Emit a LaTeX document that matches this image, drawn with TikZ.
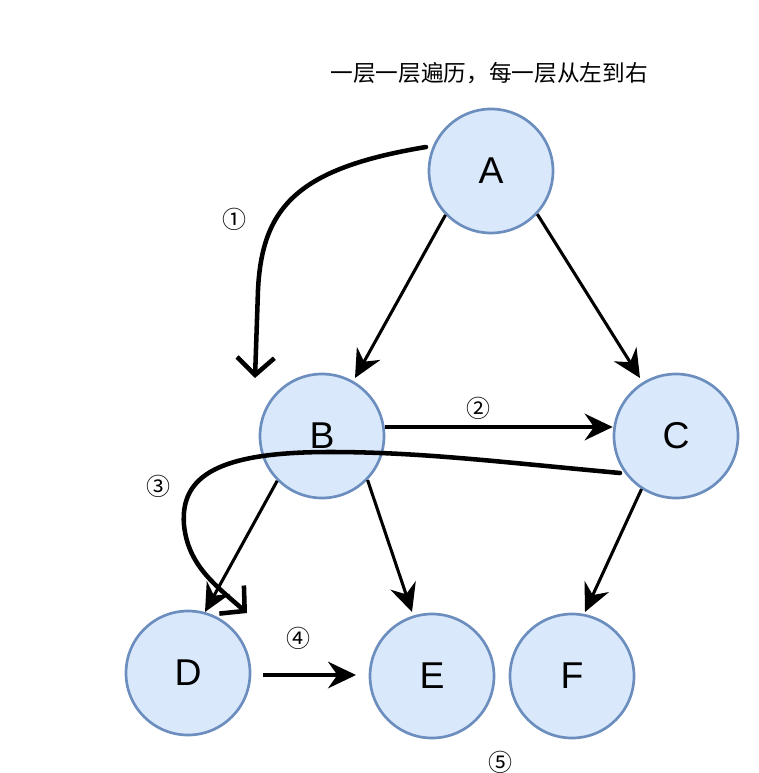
\documentclass[tikz,border=0pt]{standalone}
\usepackage{fontspec}
\setmainfont{Liberation Sans}
\newfontfamily\cjk{Noto Sans CJK SC}
\usetikzlibrary{arrows.meta,calc}
\definecolor{nodefill}{HTML}{DAE8FC}
\definecolor{nodeline}{HTML}{6C8EBF}
\begin{document}
\begin{tikzpicture}[x=0.75pt,y=-0.75pt,
  vert/.style={circle,draw=nodeline,fill=nodefill,line width=2pt,minimum size=93pt,inner sep=0pt,font=\fontsize{28}{28}\selectfont},
  edge/.style={line width=2.3pt,-{Stealth[length=21pt,width=20pt,inset=7pt]}},
  sketch/.style={line width=3.4pt,line cap=round,line join=round,-{Straight Barb[length=13pt,width=28pt,line width=3.4pt]}},
  num/.style={font=\cjk\fontsize{18}{18}\selectfont},
]
\useasboundingbox (0,0) rectangle (758,773);
\node[vert] (A) at (491,171) {A};
\node[vert] (B) at (322,436) {B};
\node[vert] (C) at (676,436) {C};
\node[vert] (D) at (188,673) {D};
\node[vert] (E) at (432,676) {E};
\node[vert] (F) at (572,676) {F};

\node[font=\cjk\fontsize{17}{17}\selectfont] (title) at (489,73) {一层一层遍历，每一层从左到右};

\node[num] (n1) at (234,219) {①};
\node[num] (n2) at (478,408) {②};
\node[num] (n3) at (158,486) {③};
\node[num] (n4) at (298,638) {④};
\node[num] (n5) at (500,762) {⑤};

\draw[edge] (A.224) -- ($(B)+(33,-58)$);
\draw[edge] (A.317) -- ($(C)+(-36,-58)$);
\draw[edge] (B.east) ++(0,-9) coordinate (bc1) -- (C.west |- bc1) coordinate (bc2);
\draw[edge] (B.225) -- ($(D)+(17,-61)$);
\draw[edge] (B.316) -- ($(E)+(-20,-64)$);
\draw[edge] (C.237) -- ($(F)+(13,-64)$);
\coordinate (de1) at (263,675);
\coordinate (de2) at (356,675);
\draw[edge] (de1) -- (de2);

\coordinate (s1a) at (426,147);
\coordinate (s1b) at (255,378);
\draw[sketch] (s1a) .. controls (300,168) and (262,205) .. (258,290) -- (s1b);

\coordinate (s3a) at (620,473);
\coordinate (s3b) at (247,613);
\draw[sketch] (s3a) .. controls (500,462) and (420,452) .. (330,452)
  .. controls (220,452) and (180,475) .. (184,525)
  .. controls (188,565) and (215,585) .. (s3b);
\end{tikzpicture}
\end{document}
